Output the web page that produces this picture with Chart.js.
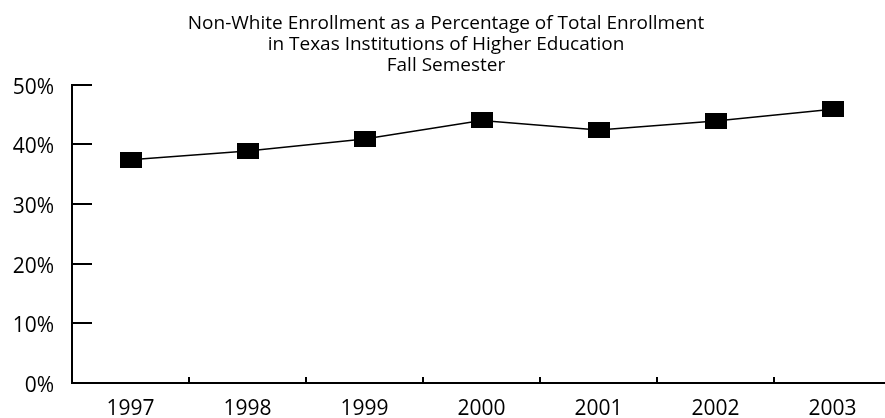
<!DOCTYPE html>
<html>
<head>
<meta charset="utf-8">
<script src="https://cdn.jsdelivr.net/npm/chart.js@4/dist/chart.umd.min.js"></script>
<style>
    body { margin: 0; overflow: hidden; background: #fff; }
    canvas { display: block; }
</style>
</head>
<body>
<canvas id="enrollment_chart" width="892" height="418"></canvas>
<script>
var years = ['1997', '1998', '1999', '2000', '2001', '2002', '2003'];
var nonWhitePercent = [37.4, 38.9, 40.9, 44.0, 42.4, 43.9, 45.9];
var yTickValues = [0, 10, 20, 30, 40, 50];
var titleLines = [
    'Non-White Enrollment as a Percentage of Total Enrollment',
    'in Texas Institutions of Higher Education',
    'Fall Semester'
];

var fontFamily = '"Open Sans", "Noto Sans", sans-serif';

// filled black box used as the marker
function makeMarker() {
    var c = document.createElement('canvas');
    c.width = 22;
    c.height = 16;
    var g = c.getContext('2d');
    g.fillStyle = '#000';
    g.fillRect(0, 0, 22, 16);
    return c;
}

// tick marks point into the plot area, so draw them by hand
var innerTicks = {
    id: 'innerTicks',
    afterDraw: function (chart) {
        var c = chart.ctx;
        var xs = chart.scales.x;
        var ys = chart.scales.y;
        var area = chart.chartArea;
        c.save();
        c.strokeStyle = '#000';
        c.lineWidth = 2;
        c.beginPath();
        for (var i = 0; i < yTickValues.length; i++) {
            var py = Math.round(ys.getPixelForValue(yTickValues[i]));
            c.moveTo(area.left, py);
            c.lineTo(area.left + 20, py);
        }
        for (var j = 1; j < years.length; j++) {
            var px = Math.round((xs.getPixelForTick(j) + xs.getPixelForTick(j - 1)) / 2);
            c.moveTo(px, area.bottom);
            c.lineTo(px, area.bottom - 6);
        }
        c.stroke();
        c.restore();
    }
};

var chart = new Chart('enrollment_chart', {
    type: 'line',
    data: {
        labels: years,
        datasets: [{
            data: nonWhitePercent,
            borderColor: '#000',
            borderWidth: 1.5,
            tension: 0,
            pointStyle: makeMarker(),
            // the image sets the marker size; keep radius small so no extra layout padding
            pointRadius: 1,
            pointHoverRadius: 1,
            pointBorderWidth: 0
        }]
    },
    options: {
        responsive: false,
        animation: false,
        layout: { padding: 0 },
        plugins: {
            legend: { display: false },
            tooltip: { enabled: false },
            title: {
                display: true,
                text: titleLines,
                color: '#000',
                font: { family: fontFamily, size: 19, weight: 'normal', lineHeight: 1.1 },
                padding: { top: 13, bottom: 9 }
            }
        },
        scales: {
            x: {
                offset: true,
                grid: { display: false, drawTicks: false },
                border: { display: true, color: '#000', width: 2 },
                ticks: {
                    color: '#000',
                    padding: 13,
                    maxRotation: 0,
                    font: { family: fontFamily, size: 21 }
                },
                afterFit: function (scale) { scale.height = 35; }
            },
            y: {
                min: 0,
                max: 50,
                grid: { display: false, drawTicks: false },
                border: { display: true, color: '#000', width: 2 },
                ticks: {
                    stepSize: 10,
                    color: '#000',
                    padding: 18,
                    labelOffset: 3,
                    font: { family: fontFamily, size: 21 },
                    callback: function (v) { return v + '%'; }
                },
                afterFit: function (scale) { scale.width = 72; }
            }
        }
    },
    plugins: [innerTicks]
});
</script>
</body>
</html>
